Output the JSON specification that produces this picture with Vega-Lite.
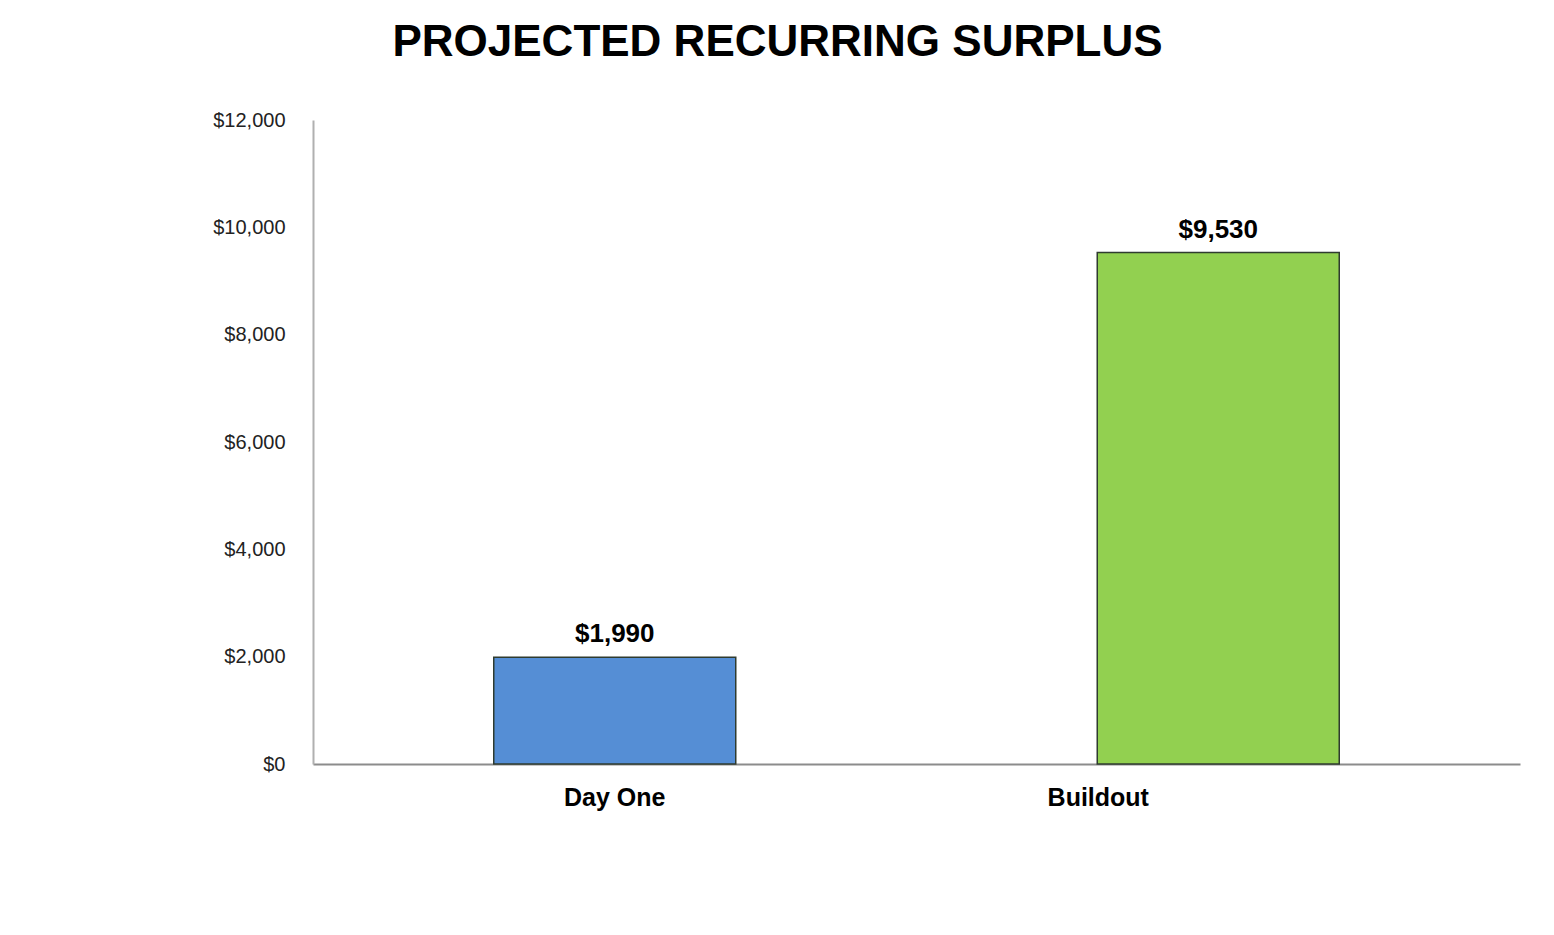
{
  "$schema": "https://vega.github.io/schema/vega-lite/v6.json",
  "autosize": "none",
  "width": 1207,
  "height": 644,
  "padding": {"left": 313, "top": 120, "right": 34, "bottom": 171},
  "background": "white",
  "title": {
    "text": "PROJECTED RECURRING SURPLUS",
    "font": "Liberation Sans",
    "fontSize": 44,
    "fontWeight": "bold",
    "color": "#000000",
    "anchor": "middle",
    "dx": -139,
    "offset": 45
  },
  "data": {
    "values": [
      {"category": "Day One", "value": 1990},
      {"category": "Buildout", "value": 9530}
    ]
  },
  "encoding": {
    "x": {
      "field": "category",
      "type": "nominal",
      "sort": ["Day One", "Buildout"],
      "scale": {"paddingInner": 0, "paddingOuter": 0},
      "axis": {
        "title": null,
        "labelAngle": 0,
        "labelFont": "Liberation Sans",
        "labelFontSize": 25,
        "labelFontWeight": "bold",
        "labelColor": "#000000",
        "labelPadding": 21,
        "labelOffset": {"condition": {"test": "datum.value === 'Buildout'", "value": -120}, "value": 0},
        "ticks": false,
        "domainColor": "#8c8c8c",
        "domainWidth": 2,
        "grid": false
      }
    },
    "y": {
      "field": "value",
      "type": "quantitative",
      "scale": {"domain": [0, 12000]},
      "axis": {
        "title": null,
        "values": [0, 2000, 4000, 6000, 8000, 10000, 12000],
        "format": "$,.0f",
        "labelFont": "Liberation Sans",
        "labelFontSize": 20,
        "labelColor": "#222222",
        "labelPadding": 28,
        "ticks": false,
        "grid": false,
        "domainColor": "#b0b0b0",
        "domainWidth": 2
      }
    }
  },
  "layer": [
    {
      "mark": {"type": "bar", "size": 242, "stroke": "#2f3b2f", "strokeWidth": 1.5},
      "encoding": {
        "color": {
          "field": "category",
          "type": "nominal",
          "scale": {"domain": ["Day One", "Buildout"], "range": ["#558ED5", "#92D050"]},
          "legend": null
        }
      }
    },
    {
      "mark": {
        "type": "text",
        "baseline": "bottom",
        "dy": -10,
        "font": "Liberation Sans",
        "fontSize": 26,
        "fontWeight": "bold",
        "color": "#000000"
      },
      "encoding": {
        "text": {"field": "value", "type": "quantitative", "format": "$,.0f"}
      }
    }
  ],
  "config": {"view": {"stroke": null}}
}
